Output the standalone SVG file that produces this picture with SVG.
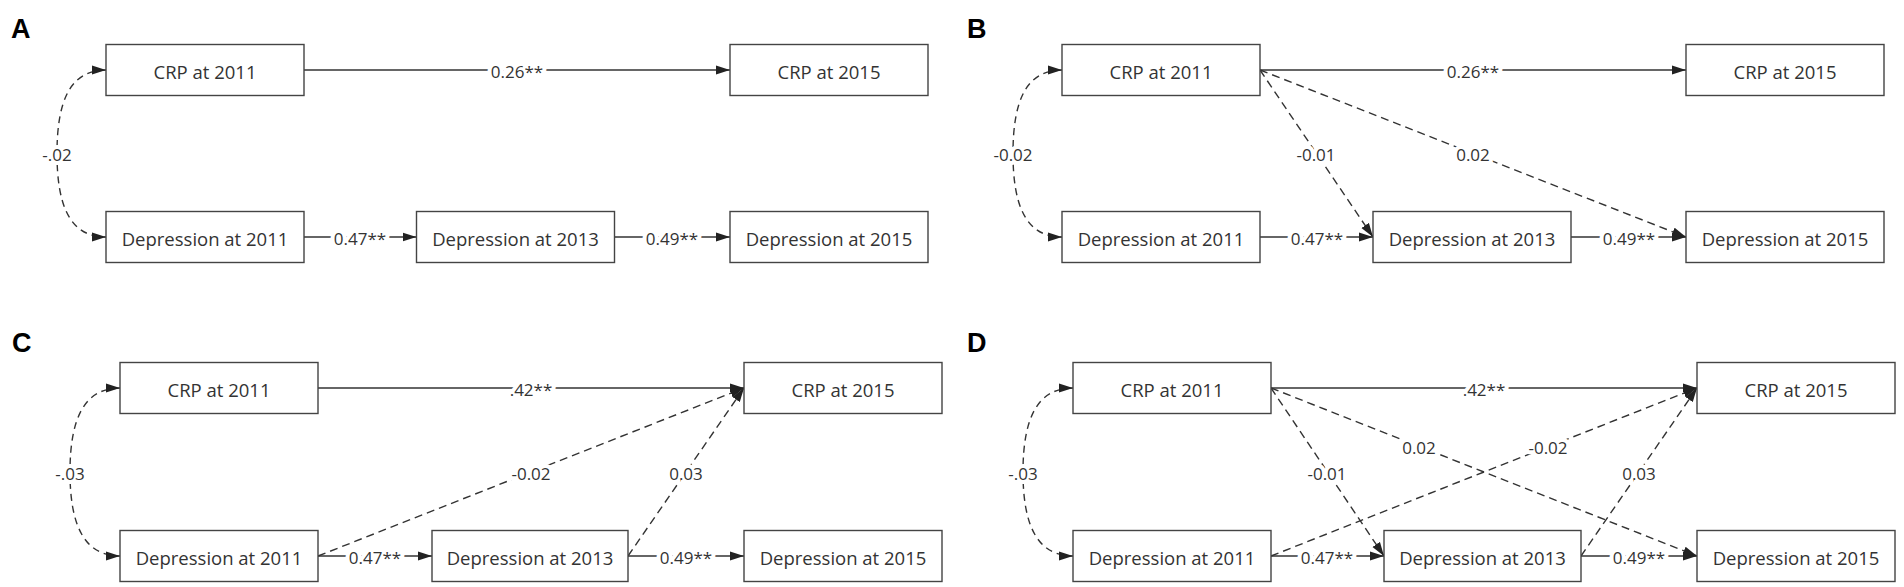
<svg xmlns="http://www.w3.org/2000/svg" width="1904" height="587" viewBox="0 0 1904 587">
<style>
.bg{fill:#fff}
.box rect{fill:#fff;stroke:#444;stroke-width:1.4}
.box text{font-family:"Open Sans","Noto Sans",sans-serif;font-size:18.5px;fill:#333;text-anchor:middle}
.panel{font-family:"Liberation Sans",Arial,sans-serif;font-size:27px;font-weight:bold;fill:#000}
.s{fill:none;stroke:#333;stroke-width:1.4;marker-end:url(#arr)}
.d{fill:none;stroke:#333;stroke-width:1.4;stroke-dasharray:8 5;marker-end:url(#arr)}
.c{fill:none;stroke:#333;stroke-width:1.4;stroke-dasharray:7 5;marker-start:url(#arr);marker-end:url(#arr)}
.lbl{font-family:"Open Sans","Noto Sans",sans-serif;font-size:17px;fill:#333;text-anchor:middle;stroke:#fff;stroke-width:8;paint-order:stroke;stroke-linejoin:round}
</style>
<defs>
<marker id="arr" markerUnits="userSpaceOnUse" markerWidth="14" markerHeight="10" refX="14" refY="4.5" orient="auto-start-reverse" viewBox="0 0 14 9">
<path d="M0,0 L14,4.5 L0,9 z" fill="#222"/>
</marker>
</defs>
<rect class="bg" x="0" y="0" width="1904" height="587"/>

<g id="panel-labels">
<text class="panel" x="11" y="38">A</text>
<text class="panel" x="967" y="38">B</text>
<text class="panel" x="12" y="352">C</text>
<text class="panel" x="967" y="352">D</text>
</g>

<g id="connectors">
<!-- A -->
<path class="s" d="M304,70 L730,70"/>
<path class="s" d="M304,237 L416.5,237"/>
<path class="s" d="M614.5,237 L730,237"/>
<path class="c" d="M106,70 C70,70 57,101 57,153.5 C57,206 70,237 106,237"/>
<!-- B -->
<path class="s" d="M1260,70 L1686,70"/>
<path class="s" d="M1260,237 L1373,237"/>
<path class="s" d="M1571,237 L1686,237"/>
<path class="d" d="M1260,70 L1373,237"/>
<path class="d" d="M1260,70 L1686,237"/>
<path class="c" d="M1062,70 C1026,70 1013,101 1013,153.5 C1013,206 1026,237 1062,237"/>
<!-- C -->
<path class="s" d="M318,388 L744,388"/>
<path class="s" d="M318,556 L432,556"/>
<path class="s" d="M628,556 L744,556"/>
<path class="d" d="M318,556 L744,388"/>
<path class="d" d="M628,556 L744,388"/>
<path class="c" d="M120,388 C84,388 70,419 70,472 C70,525 84,556 120,556"/>
<!-- D -->
<path class="s" d="M1271,388 L1697,388"/>
<path class="s" d="M1271,556 L1384,556"/>
<path class="s" d="M1581,556 L1697,556"/>
<path class="d" d="M1271,388 L1384,556"/>
<path class="d" d="M1271,388 L1697,556"/>
<path class="d" d="M1271,556 L1697,388"/>
<path class="d" d="M1581,556 L1697,388"/>
<path class="c" d="M1073,388 C1037,388 1023,419 1023,472 C1023,525 1037,556 1073,556"/>

<!-- labels -->
<text class="lbl" x="517" y="77.5">0.26**</text>
<text class="lbl" x="360" y="244.5">0.47**</text>
<text class="lbl" x="672" y="244.5">0.49**</text>
<text class="lbl" x="57" y="161">-.02</text>

<text class="lbl" x="1473" y="77.5">0.26**</text>
<text class="lbl" x="1317" y="244.5">0.47**</text>
<text class="lbl" x="1629" y="244.5">0.49**</text>
<text class="lbl" x="1013" y="161">-0.02</text>
<text class="lbl" x="1316" y="161">-0.01</text>
<text class="lbl" x="1473" y="161">0.02</text>

<text class="lbl" x="531" y="395.5">.42**</text>
<text class="lbl" x="375" y="563.5">0.47**</text>
<text class="lbl" x="686" y="563.5">0.49**</text>
<text class="lbl" x="70" y="479.5">-.03</text>
<text class="lbl" x="531" y="479.5">-0.02</text>
<text class="lbl" x="686" y="479.5">0.03</text>

<text class="lbl" x="1484" y="395.5">.42**</text>
<text class="lbl" x="1327" y="563.5">0.47**</text>
<text class="lbl" x="1639" y="563.5">0.49**</text>
<text class="lbl" x="1023" y="479.5">-.03</text>
<text class="lbl" x="1327" y="479.5">-0.01</text>
<text class="lbl" x="1419" y="453.5">0.02</text>
<text class="lbl" x="1548" y="453.5">-0.02</text>
<text class="lbl" x="1639" y="479.5">0.03</text>
</g>

<!-- Panel A nodes -->
<g id="A-crp2011" class="box"><rect x="106" y="44.5" width="198" height="51"/><text x="205" y="78.5">CRP at 2011</text></g>
<g id="A-dep2011" class="box"><rect x="106" y="211.5" width="198" height="51"/><text x="205" y="245.5">Depression at 2011</text></g>
<g id="A-dep2013" class="box"><rect x="416.5" y="211.5" width="198" height="51"/><text x="515.5" y="245.5">Depression at 2013</text></g>
<g id="A-crp2015" class="box"><rect x="730" y="44.5" width="198" height="51"/><text x="829" y="78.5">CRP at 2015</text></g>
<g id="A-dep2015" class="box"><rect x="730" y="211.5" width="198" height="51"/><text x="829" y="245.5">Depression at 2015</text></g>

<!-- Panel B nodes -->
<g id="B-crp2011" class="box"><rect x="1062" y="44.5" width="198" height="51"/><text x="1161" y="78.5">CRP at 2011</text></g>
<g id="B-dep2011" class="box"><rect x="1062" y="211.5" width="198" height="51"/><text x="1161" y="245.5">Depression at 2011</text></g>
<g id="B-dep2013" class="box"><rect x="1373" y="211.5" width="198" height="51"/><text x="1472" y="245.5">Depression at 2013</text></g>
<g id="B-crp2015" class="box"><rect x="1686" y="44.5" width="198" height="51"/><text x="1785" y="78.5">CRP at 2015</text></g>
<g id="B-dep2015" class="box"><rect x="1686" y="211.5" width="198" height="51"/><text x="1785" y="245.5">Depression at 2015</text></g>

<!-- Panel C nodes -->
<g id="C-crp2011" class="box"><rect x="120" y="362.5" width="198" height="51"/><text x="219" y="396.5">CRP at 2011</text></g>
<g id="C-dep2011" class="box"><rect x="120" y="530.5" width="198" height="51"/><text x="219" y="564.5">Depression at 2011</text></g>
<g id="C-dep2013" class="box"><rect x="432" y="530.5" width="196" height="51"/><text x="530" y="564.5">Depression at 2013</text></g>
<g id="C-crp2015" class="box"><rect x="744" y="362.5" width="198" height="51"/><text x="843" y="396.5">CRP at 2015</text></g>
<g id="C-dep2015" class="box"><rect x="744" y="530.5" width="198" height="51"/><text x="843" y="564.5">Depression at 2015</text></g>

<!-- Panel D nodes -->
<g id="D-crp2011" class="box"><rect x="1073" y="362.5" width="198" height="51"/><text x="1172" y="396.5">CRP at 2011</text></g>
<g id="D-dep2011" class="box"><rect x="1073" y="530.5" width="198" height="51"/><text x="1172" y="564.5">Depression at 2011</text></g>
<g id="D-dep2013" class="box"><rect x="1384" y="530.5" width="197" height="51"/><text x="1482.5" y="564.5">Depression at 2013</text></g>
<g id="D-crp2015" class="box"><rect x="1697" y="362.5" width="198" height="51"/><text x="1796" y="396.5">CRP at 2015</text></g>
<g id="D-dep2015" class="box"><rect x="1697" y="530.5" width="198" height="51"/><text x="1796" y="564.5">Depression at 2015</text></g>
</svg>
